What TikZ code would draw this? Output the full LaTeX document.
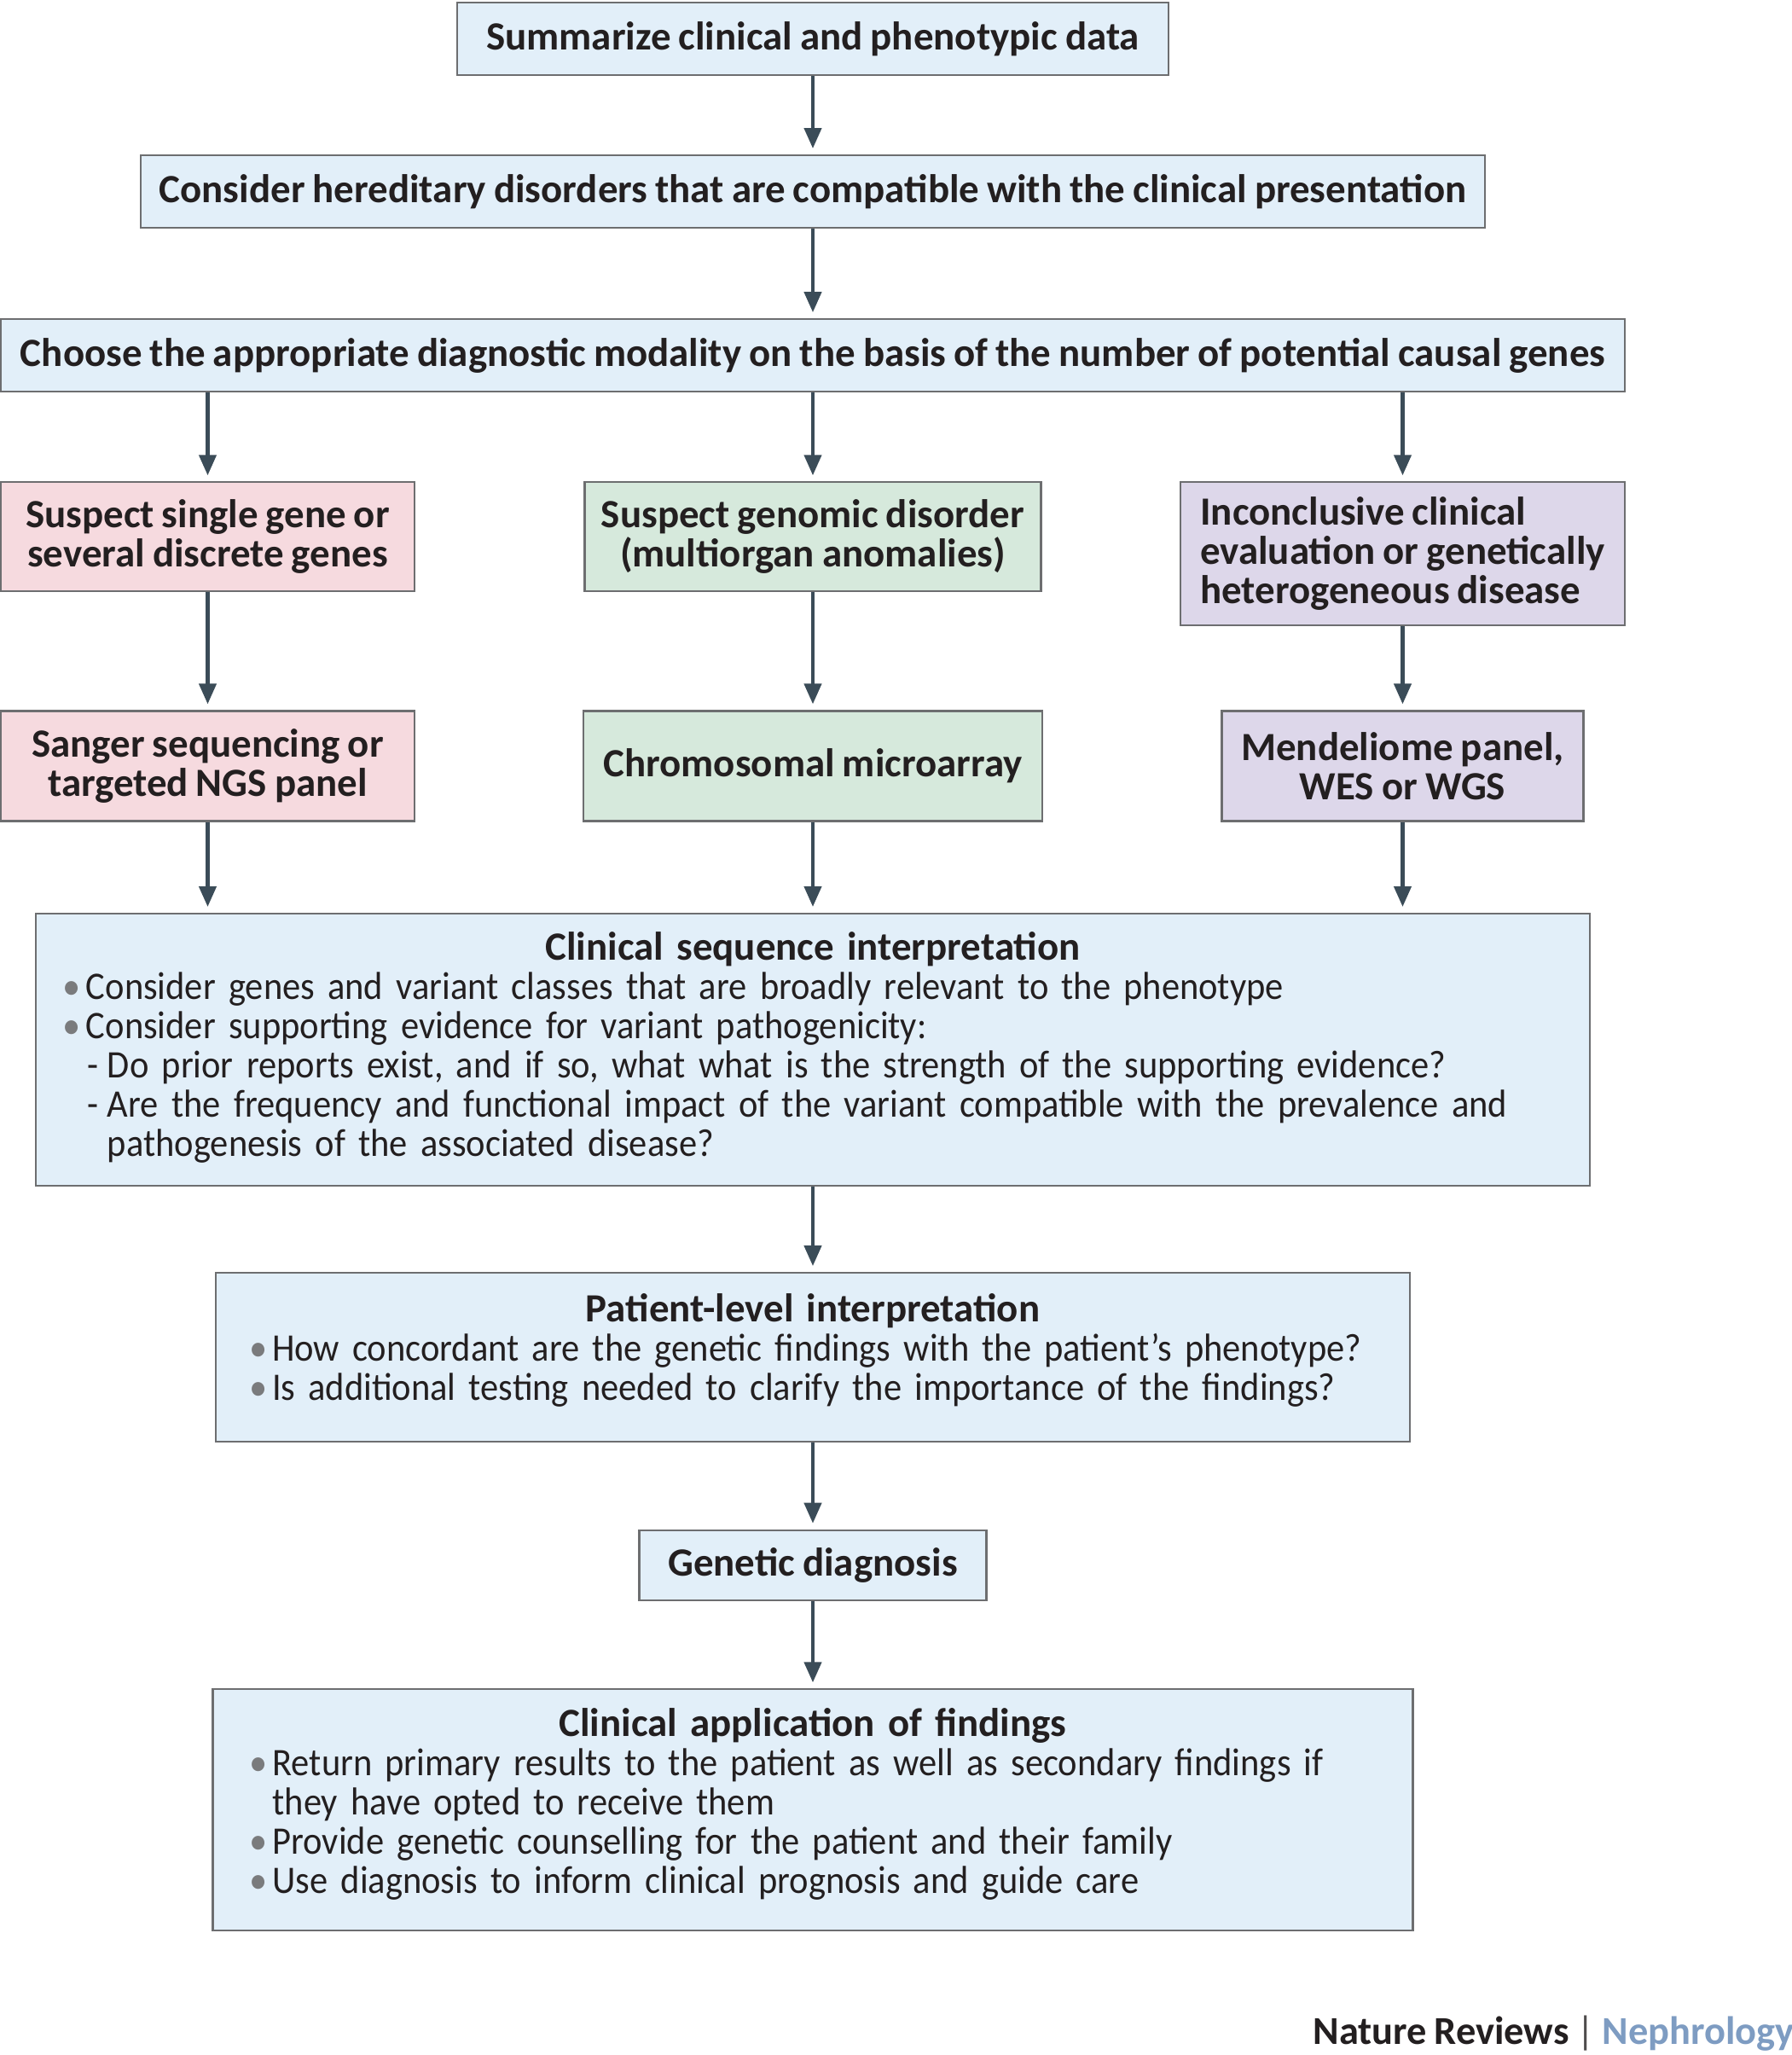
\documentclass[tikz,border=0pt]{standalone}
\usepackage{fontspec}
\setmainfont[WordSpace=0.85]{Carlito}
\newfontfamily\bodyfont[FakeStretch=0.93]{Carlito}
\usepackage{xcolor}
\usetikzlibrary{arrows.meta, positioning}

\definecolor{boxblue}{HTML}{E2EFF9}
\definecolor{boxpink}{HTML}{F6DADF}
\definecolor{boxgreen}{HTML}{D6E9DC}
\definecolor{boxpurple}{HTML}{DDD7EA}
\definecolor{edgegray}{HTML}{6D6E70}
\definecolor{arrowslate}{HTML}{3B4C58}
\definecolor{inkblack}{HTML}{231F20}
\definecolor{dotgray}{HTML}{7A7B7D}
\definecolor{journalblue}{HTML}{7E9CC2}

\newcommand{\itm}{\makebox[0.27cm][l]{\textcolor{dotgray}{\textbullet}}}
\newcommand{\subitm}{\hspace*{0.29cm}\makebox[0.23cm][l]{-}}

\begin{document}
\begin{tikzpicture}[
	text=inkblack,
	basebox/.style={rectangle, draw=edgegray, line width=0.6pt, inner sep=0pt, align=center, font=\fontsize{13.35}{13.1}\selectfont\bfseries},
	titlebox/.style={basebox, fill=boxblue, minimum height=0.85cm},
	pinkbox/.style={basebox, fill=boxpink, minimum width=4.85cm},
	greenbox/.style={basebox, fill=boxgreen},
	purplebox/.style={basebox, fill=boxpurple},
	listbox/.style={rectangle, draw=edgegray, line width=0.6pt, fill=boxblue, inner ysep=0pt, align=left, font=\bodyfont\fontsize{13}{13.1}\selectfont},
	arrow/.style={line width=1.2pt, draw=arrowslate, -{Triangle[width=0.2cm, length=0.24cm]}, shorten >=0.07cm}
	]
	\useasboundingbox (0,0) rectangle (21,-24.09);
	
	% Top of the flow
	\node (summ) [titlebox, minimum width=8.34cm] at (9.53,-0.455) {Summarize clinical and phenotypic data};
	\node (hered) [titlebox, minimum width=15.76cm, below=0.92cm of summ] {Consider hereditary disorders that are compatible with the clinical presentation};
	\node (choose) [titlebox, minimum width=19.04cm, below=1.05cm of hered] {Choose the appropriate diagnostic modality on the basis of the number of potential causal genes};
	
	% Three branches
	\node (single) [pinkbox, minimum height=1.28cm, below=1.04cm of choose.south west, anchor=north west] {Suspect single gene or\\several discrete genes};
	\node (genomic) [greenbox, minimum width=5.35cm, minimum height=1.28cm, below=1.04cm of choose] {Suspect genomic disorder\\(multiorgan anomalies)};
	\node (incon) [purplebox, minimum width=5.21cm, minimum height=1.68cm, align=left, below=1.04cm of choose.south east, anchor=north east] {Inconclusive clinical\\evaluation or genetically\\heterogeneous disease};
	
	\node (sanger) [pinkbox, minimum height=1.29cm, below=1.38cm of single] {Sanger sequencing or\\targeted NGS panel};
	\node (array) [greenbox, minimum width=5.38cm, minimum height=1.29cm, below=1.38cm of genomic] {Chromosomal microarray};
	\node (mendel) [purplebox, minimum width=4.24cm, minimum height=1.29cm, below=0.98cm of incon] {Mendeliome panel,\\WES or WGS};
	
	% Interpretation and outcome
	\node (seqint) [listbox, inner xsep=0.32cm, text width=17.58cm, minimum height=3.19cm, below=1.065cm of array] {%
		{\centering\normalfont\bfseries\fontsize{13.35}{13.1}\selectfont Clinical sequence interpretation\par}
		\itm Consider genes and variant classes that are broadly relevant to the phenotype\\
		\itm Consider supporting evidence for variant pathogenicity:\\
		\subitm Do prior reports exist, and if so, what what is the strength of the supporting evidence?\\
		\subitm Are the frequency and functional impact of the variant compatible with the prevalence and\\
		\hspace*{0.52cm}pathogenesis of the associated disease?\par\vspace*{0.05cm}};
	\node (patient) [listbox, inner xsep=0.39cm, text width=13.22cm, minimum height=1.98cm, below=1.0cm of seqint] {%
		{\centering\normalfont\bfseries\fontsize{13.35}{13.1}\selectfont Patient-level interpretation\par}
		\itm How concordant are the genetic findings with the patient’s phenotype?\\
		\itm Is additional testing needed to clarify the importance of the findings?\par\vspace*{0.17cm}};
	\node (diag) [titlebox, minimum width=4.07cm, minimum height=0.82cm, below=1.015cm of patient] {Genetic diagnosis};
	\node (apply) [listbox, inner xsep=0.43cm, text width=13.21cm, minimum height=2.83cm, below=1.025cm of diag] {%
		{\centering\normalfont\bfseries\fontsize{13.35}{13.1}\selectfont Clinical application of findings\par}
		\itm Return primary results to the patient as well as secondary findings if\\
		\hspace*{0.27cm}they have opted to receive them\\
		\itm Provide genetic counselling for the patient and their family\\
		\itm Use diagnosis to inform clinical prognosis and guide care\par\vspace*{0.14cm}};
	
	\node (journal) [anchor=base east, font=\fontsize{13.2}{14}\selectfont] at (21.16,-23.96) {\bfseries Nature Reviews \mdseries\textcolor{inkblack!80}{|} \bfseries\textcolor{journalblue}{Nephrology}};
	
	% Connectors
	\draw [arrow] (summ) -- (hered);
	\draw [arrow] (hered) -- (choose);
	\draw [arrow] (choose.south -| single) -- (single);
	\draw [arrow] (choose) -- (genomic);
	\draw [arrow] (choose.south -| incon) -- (incon);
	\draw [arrow] (single) -- (sanger);
	\draw [arrow] (genomic) -- (array);
	\draw [arrow] (incon) -- (mendel);
	\draw [arrow] (sanger) -- (sanger |- seqint.north);
	\draw [arrow] (array) -- (seqint);
	\draw [arrow] (mendel) -- (mendel |- seqint.north);
	\draw [arrow] (seqint) -- (patient);
	\draw [arrow] (patient) -- (diag);
	\draw [arrow] (diag) -- (apply);
	
\end{tikzpicture}
\end{document}
